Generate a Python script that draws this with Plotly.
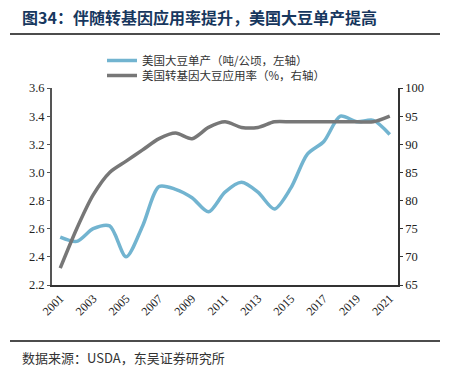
import plotly.graph_objects as go

years = [str(y) for y in range(2001, 2022)]
tick_years = [str(y) for y in range(2001, 2022, 2)]
yield_t_ha = [2.54, 2.51, 2.60, 2.62, 2.40, 2.62, 2.90, 2.88, 2.82, 2.72, 2.86,
              2.93, 2.86, 2.74, 2.89, 3.13, 3.22, 3.40, 3.36, 3.37, 3.27]
gm_rate = [68, 75, 81, 85, 87, 89, 91, 92, 91, 93, 94,
           93, 93, 94, 94, 94, 94, 94, 94, 94, 95]

name_yield = "美国大豆单产（吨/公顷，左轴）"
name_rate = "美国转基因大豆应用率（%，右轴）"

BLUE = "#72B4D0"
GRAY = "#777777"
SERIF = "Liberation Serif, Times New Roman, serif"
CJK = "Noto Sans CJK SC"

W, H = 457, 371
L, R, T, B = 52, 398, 88, 285


def px(x):
    return (x - L) / (R - L)


def py(y):
    return (B - y) / (B - T)


fig = go.Figure()
fig.add_trace(go.Scatter(x=years, y=yield_t_ha, name=name_yield, mode="lines",
                         line=dict(color=BLUE, width=3.5, shape="spline", smoothing=0.8),
                         yaxis="y", legend="legend"))
fig.add_trace(go.Scatter(x=years, y=gm_rate, name=name_rate, mode="lines",
                         line=dict(color=GRAY, width=3.5, shape="spline", smoothing=0.8),
                         yaxis="y2", legend="legend2"))

leg_common = dict(xanchor="left", yanchor="middle",
                  font=dict(family=CJK, size=11.5, color="#333333"),
                  bgcolor="rgba(0,0,0,0)", itemwidth=30)

fig.update_layout(
    width=W, height=H,
    margin=dict(l=L, r=W - R, t=T, b=H - B, pad=0, autoexpand=False),
    paper_bgcolor="white", plot_bgcolor="white",
    showlegend=True,
    legend=dict(x=px(102), y=py(60.5), **leg_common),
    legend2=dict(x=px(102), y=py(75.5), **leg_common),
    xaxis=dict(type="category", range=[-0.5, 20.5], tickmode="array",
               tickvals=tick_years, ticktext=tick_years, tickangle=-45,
               showline=True, linecolor="#333333", linewidth=1.5,
               ticks="", showgrid=False, zeroline=False, automargin=False,
               tickfont=dict(family=SERIF, size=12, color="#222222")),
    yaxis=dict(range=[2.2, 3.6], dtick=0.2, tickformat=".1f",
               showline=True, linecolor="#555555", linewidth=2,
               ticks="outside", ticklen=3, tickcolor="#555555",
               showgrid=False, zeroline=False, automargin=False,
               tickfont=dict(family=SERIF, size=12.5, color="#222222")),
    yaxis2=dict(range=[65, 100], dtick=5, overlaying="y", side="right",
                showline=True, linecolor="#333333", linewidth=1.5,
                ticks="outside", ticklen=3, tickcolor="#333333",
                showgrid=False, zeroline=False, automargin=False,
                tickfont=dict(family=SERIF, size=12.5, color="#222222")),
)

fig.add_annotation(xref="paper", yref="paper", x=px(20), y=py(17),
                   xanchor="left", yanchor="middle", showarrow=False,
                   text="<b>图34：伴随转基因应用率提升，美国大豆单产提高</b>",
                   font=dict(family=CJK, size=16, color="#17375E"))
fig.add_annotation(xref="paper", yref="paper", x=px(20), y=py(357),
                   xanchor="left", yanchor="middle", showarrow=False,
                   text="数据来源：USDA，东吴证券研究所",
                   font=dict(family=CJK, size=13, color="#333333"))
fig.add_shape(type="line", xref="paper", yref="paper",
              x0=px(10), x1=px(440), y0=py(34), y1=py(34),
              line=dict(color="#111111", width=1.5))
fig.add_shape(type="line", xref="paper", yref="paper",
              x0=px(10), x1=px(440), y0=py(341), y1=py(341),
              line=dict(color="#111111", width=1.5))

fig.write_html("out.html",
               config={"displayModeBar": False},
               post_script="document.body.style.margin='0';document.body.style.overflow='hidden';")
